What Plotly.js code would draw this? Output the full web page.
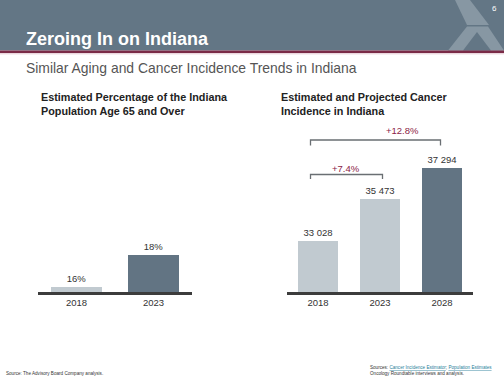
<!DOCTYPE html>
<html>
<head>
<meta charset="utf-8">
<script src="https://cdn.plot.ly/plotly-3.0.1.min.js"></script>
<style>html,body{margin:0;padding:0;background:#fff;}#chart{width:504px;height:378px;}</style>
</head>
<body>
<div id="chart"></div>
<script>
// ---- data ----
const popYears = ['2018', '2023'];
const popPct = [16, 18];
const cancerYears = ['2018', '2023', '2028'];
const cancerCases = [33028, 35473, 37294];
const growthLabels = ['+7.4%', '+12.8%'];

const lightBar = '#c1cad0';
const darkBar = '#627483';
const font = 'Liberation Sans, Arial, sans-serif';

const X = p => p / 504;
const Y = p => 1 - p / 378;
function path(pts) {
  return 'M' + pts.map(p => X(p[0]) + ',' + Y(p[1])).join(' L') + ' Z';
}

const traces = [
  {
    type: 'bar', x: popYears, y: popPct, xaxis: 'x', yaxis: 'y',
    marker: {color: [lightBar, darkBar]}, width: 0.65,
    texttemplate: '%{y}%', textposition: 'outside', constraintext: 'none',
    textfont: {family: font, size: 9.5, color: '#333'}, hoverinfo: 'none', cliponaxis: false
  },
  {
    type: 'bar', x: cancerYears, y: cancerCases, xaxis: 'x2', yaxis: 'y2',
    marker: {color: [lightBar, lightBar, darkBar]}, width: 0.645,
    texttemplate: '%{y:,}', textposition: 'outside', constraintext: 'none',
    textfont: {family: font, size: 9.5, color: '#333'}, hoverinfo: 'none', cliponaxis: false
  }
];

const yDom = [Y(292), Y(120)];
const xCommon = {
  type: 'category',
  showline: true, linecolor: '#3c3c3c', linewidth: 2.5, ticks: '', showgrid: false,
  zeroline: false, fixedrange: true, tickfont: {family: font, size: 9.5, color: '#333'}
};
const yCommon = {showline: false, showgrid: false, zeroline: false, showticklabels: false, ticks: '', fixedrange: true};

const shapes = [
  // header band
  {type: 'rect', xref: 'paper', yref: 'paper', x0: 0, x1: 1, y0: Y(50.5), y1: 1, fillcolor: '#637685', line: {width: 0}, layer: 'below'},
  // logo
  {type: 'path', xref: 'paper', yref: 'paper', path: path([[455,0],[470,0],[489,25],[467,25]]), fillcolor: '#8797a3', line: {width: 0}},
  {type: 'path', xref: 'paper', yref: 'paper', path: path([[467,26.5],[488,26.5],[504,50.5],[448,50.5]]), fillcolor: '#8797a3', line: {width: 0}},
  {type: 'path', xref: 'paper', yref: 'paper', path: path([[463,50.5],[477,32],[491,50.5]]), fillcolor: '#637685', line: {width: 0}},
  // maroon rule
  {type: 'rect', xref: 'paper', yref: 'paper', x0: 0, x1: 1, y0: Y(53), y1: Y(50.5), fillcolor: '#7a2b47', line: {width: 0}},
  {type: 'line', xref: 'paper', yref: 'paper', x0: 0, x1: 1, y0: Y(53.8), y1: Y(53.8), line: {color: '#e3c7d0', width: 1}},
  // brackets
  {type: 'path', xref: 'paper', yref: 'paper',
   path: 'M' + X(310.5) + ',' + Y(145.5) + ' L' + X(310.5) + ',' + Y(140) + ' L' + X(440.5) + ',' + Y(140) + ' L' + X(440.5) + ',' + Y(145.5),
   line: {color: '#6a6f73', width: 1.3}},
  {type: 'path', xref: 'paper', yref: 'paper',
   path: 'M' + X(310.5) + ',' + Y(179) + ' L' + X(310.5) + ',' + Y(174.5) + ' L' + X(382.5) + ',' + Y(174.5) + ' L' + X(382.5) + ',' + Y(179),
   line: {color: '#6a6f73', width: 1.3}}
];

const ann = (x, y, text, size, color, opts) => Object.assign({
  xref: 'paper', yref: 'paper', x: X(x), y: Y(y), text: text, showarrow: false,
  xanchor: 'left', yanchor: 'middle', align: 'left',
  font: {family: font, size: size, color: color}
}, opts || {});

const annotations = [
  ann(499, 8, '6', 8, '#ffffff', {xanchor: 'right'}),
  ann(24, 38.5, '<b>Zeroing In on Indiana</b>', 18, '#ffffff'),
  ann(24, 68, 'Similar Aging and Cancer Incidence Trends in Indiana', 13.9, '#555555'),
  ann(39, 104, '<b>Estimated Percentage of the Indiana<br>Population Age 65 and Over</b>', 10.8, '#222222'),
  ann(279, 104, '<b>Estimated and Projected Cancer<br>Incidence in Indiana</b>', 10.8, '#222222'),
  ann(402, 131, growthLabels[1], 9.5, '#8b2346', {xanchor: 'center'}),
  ann(346, 168, growthLabels[0], 9.5, '#8b2346', {xanchor: 'center'}),
  ann(4, 373, 'Source: The Advisory Board Company analysis.', 4.6, '#333333'),
  ann(368, 367, 'Sources: <span style="color:#2a7f9b"><u>Cancer Incidence Estimator</u></span>; <span style="color:#2a7f9b"><u>Population Estimates</u></span>', 4.6, '#333333'),
  ann(368, 373, 'Oncology Roundtable interviews and analysis.', 4.6, '#333333')
];

const layout = {
  width: 504, height: 378,
  margin: {l: 0, r: 0, t: 0, b: 0},
  paper_bgcolor: '#ffffff', plot_bgcolor: 'rgba(0,0,0,0)',
  showlegend: false,
  separators: '. ',
  font: {family: font},
  bargap: 0,
  xaxis: Object.assign({domain: [X(38), X(192)], anchor: 'y'}, xCommon),
  yaxis: Object.assign({domain: yDom, range: [15.69, 26.44], anchor: 'x'}, yCommon),
  xaxis2: Object.assign({domain: [X(287), X(473)], anchor: 'y2'}, xCommon),
  yaxis2: Object.assign({domain: yDom, range: [30080, 40051], anchor: 'x2'}, yCommon),
  shapes: shapes,
  annotations: annotations
};

Plotly.newPlot('chart', traces, layout, {displayModeBar: false, staticPlot: true});
</script>
</body>
</html>
